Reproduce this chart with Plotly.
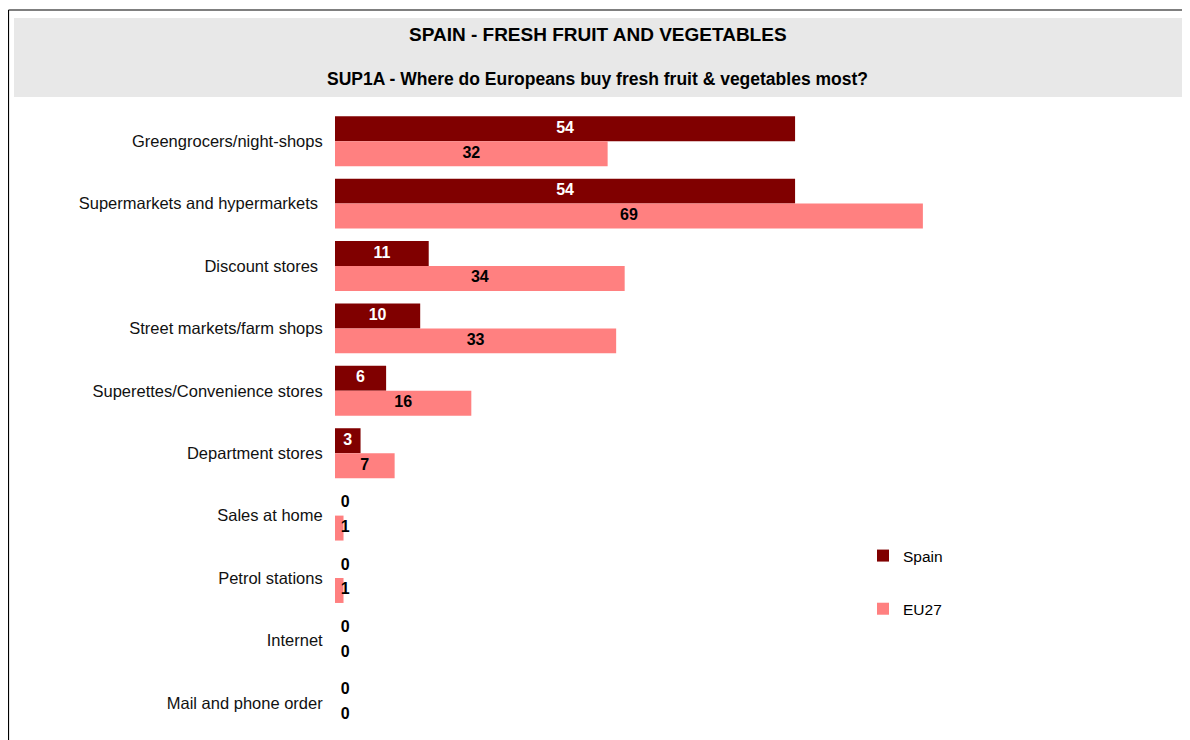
import plotly.graph_objects as go

# ---- data ----
categories = [
    "Greengrocers/night-shops",
    "Supermarkets and hypermarkets ",
    "Discount stores ",
    "Street markets/farm shops",
    "Superettes/Convenience stores",
    "Department stores",
    "Sales at home",
    "Petrol stations",
    "Internet",
    "Mail and phone order",
]
spain = [54, 54, 11, 10, 6, 3, 0, 0, 0, 0]
eu27 = [32, 69, 34, 33, 16, 7, 1, 1, 0, 0]

SPAIN_COL = "#800000"
EU_COL = "#FF8080"
FONT = "Liberation Sans, Arial, sans-serif"

# page body has an 8px margin, so the figure is a bit smaller than the window
OFF = 8
W, H = 1182, 732
L, R, T, B = 327, 3, 102, 6
pw = W - L - R
ph = H - T - B


def px_x(p):
    # p is a pixel position in the browser window
    return (p - OFF - L) / pw


def px_y(p):
    return 1 - (p - OFF - T) / ph


fig = go.Figure()

fig.add_trace(go.Bar(y=categories, x=spain, orientation="h", name="Spain",
                     marker=dict(color=SPAIN_COL, line=dict(width=0)),
                     offsetgroup="es", legendgroup="es", hoverinfo="x"))
fig.add_trace(go.Bar(y=categories, x=eu27, orientation="h", name="EU27",
                     marker=dict(color=EU_COL, line=dict(width=0)),
                     offsetgroup="eu", legendgroup="eu", hoverinfo="x"))


# value labels, centred in the bar (Excel-like, with a floor for tiny bars)
def label_x(vals):
    return [max(v / 2, 1.2) for v in vals]


fig.add_trace(go.Scatter(y=categories, x=label_x(spain), mode="text", orientation="h",
                         text=[f"<b>{v}</b>" for v in spain], offsetgroup="es",
                         textposition="middle center",
                         textfont=dict(family=FONT, size=16,
                                       color=["white" if v > 0 else "black" for v in spain]),
                         showlegend=False, hoverinfo="skip"))
fig.add_trace(go.Scatter(y=categories, x=label_x(eu27), mode="text", orientation="h",
                         text=[f"<b>{v}</b>" for v in eu27], offsetgroup="eu",
                         textposition="middle center",
                         textfont=dict(family=FONT, size=16, color="black"),
                         showlegend=False, hoverinfo="skip"))

# header band
fig.add_shape(type="rect", xref="paper", yref="paper",
              x0=px_x(14), x1=px_x(1182), y0=px_y(97), y1=px_y(18),
              fillcolor="#E8E8E8", line=dict(width=0), layer="below")
# outer frame (left and top edges visible)
fig.add_shape(type="line", xref="paper", yref="paper",
              x0=px_x(8.5), x1=px_x(8.5), y0=px_y(760), y1=px_y(10),
              line=dict(color="black", width=1.2))
fig.add_shape(type="line", xref="paper", yref="paper",
              x0=px_x(8.5), x1=px_x(1200), y0=px_y(10), y1=px_y(10),
              line=dict(color="black", width=1.2))

fig.add_annotation(text="<b>SPAIN - FRESH FRUIT AND VEGETABLES</b>",
                   xref="paper", yref="paper", x=px_x(598), y=px_y(35),
                   xanchor="center", yanchor="middle",
                   showarrow=False, font=dict(family=FONT, size=19, color="black"))
fig.add_annotation(text="<b>SUP1A - Where do Europeans buy fresh fruit &amp; vegetables most?</b>",
                   xref="paper", yref="paper", x=px_x(597), y=px_y(79),
                   xanchor="center", yanchor="middle",
                   showarrow=False, font=dict(family=FONT, size=17.5, color="black"))

fig.update_layout(
    width=W, height=H,
    margin=dict(l=L, r=R, t=T, b=B),
    paper_bgcolor="white", plot_bgcolor="white",
    barmode="group", bargap=0.2, bargroupgap=0,
    scattermode="group", scattergap=0.2,
    font=dict(family=FONT, size=16, color="black"),
    xaxis=dict(range=[0, pw / 8.52], visible=False, fixedrange=True),
    yaxis=dict(autorange="reversed", showgrid=False, showline=False, zeroline=False,
               ticks="outside", ticklen=8, tickcolor="rgba(0,0,0,0)",
               tickfont=dict(family=FONT, size=16.5, color="#111")),
    legend=dict(x=px_x(863), y=px_y(539), xanchor="left", yanchor="top",
                font=dict(family=FONT, size=15.5), tracegroupgap=30,
                itemwidth=30, bgcolor="rgba(0,0,0,0)"),
    showlegend=True,
)

fig.write_html("out.html")
